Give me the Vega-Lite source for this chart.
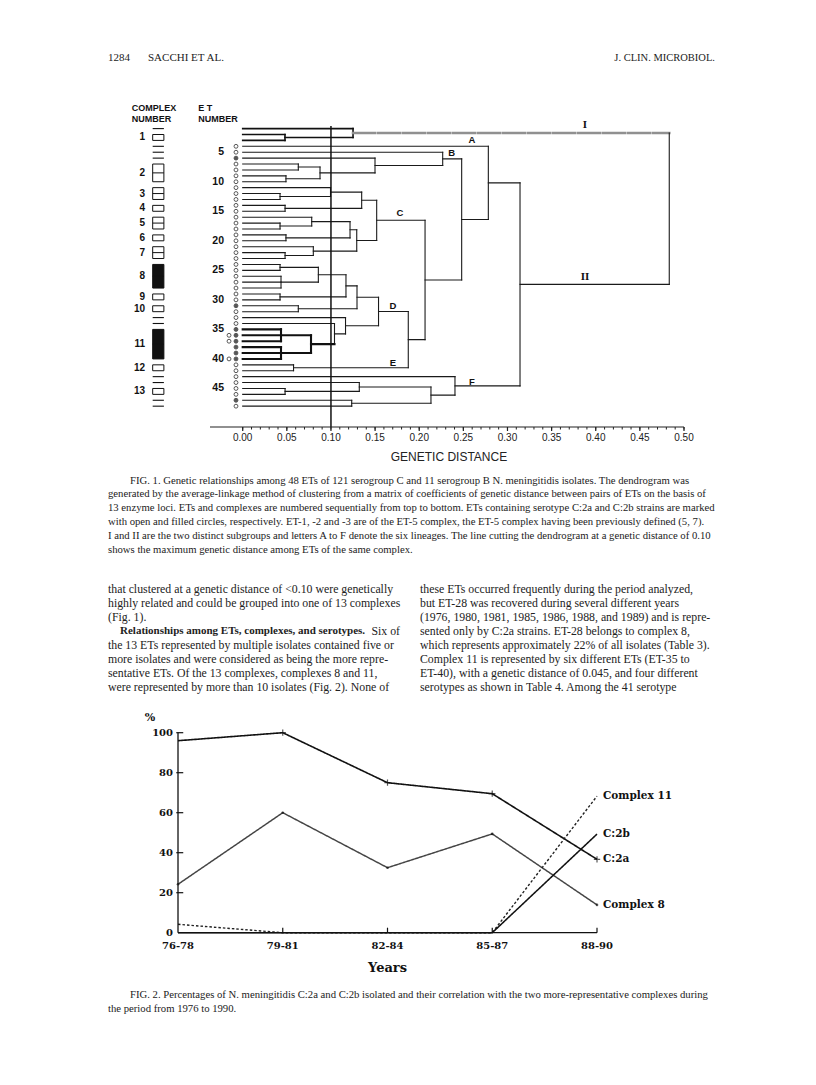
{
"$schema":"https://vega.github.io/schema/vega-lite/v6.json",
"width":816,"height":1085,"padding":0,"autosize":{"type":"none"},"background":"white",
"config":{"view":{"stroke":null},"axis":{"disable":true},"legend":{"disable":true}},
"datasets":{
"seg":[
{"d1":0,"d2":0.125,"e1":1,"e2":1,"g":"c1"},{"d1":0,"d2":0.0479,"e1":2,"e2":2,"g":"c1"},{"d1":0,"d2":0.0479,"e1":3,"e2":3,"g":"c1"},{"d1":0.0479,"d2":0.0479,"e1":2,"e2":3,"g":"c1"},{"d1":0.0479,"d2":0.125,"e1":2.5,"e2":2.5,"g":"c1"},{"d1":0.125,"d2":0.125,"e1":1,"e2":2.5,"g":"c1"},
{"d1":0.125,"d2":0.4833,"e1":1.75,"e2":1.75,"g":"I"},
{"d1":0.4833,"d2":0.4833,"e1":1.75,"e2":27.38,"g":"n"},{"d1":0.3142,"d2":0.4833,"e1":27.38,"e2":27.38,"g":"n"},{"d1":0.3142,"d2":0.3142,"e1":10.19,"e2":44.56,"g":"n"},{"d1":0.2783,"d2":0.3142,"e1":10.19,"e2":10.19,"g":"n"},{"d1":0.2783,"d2":0.2783,"e1":4,"e2":16.38,"g":"n"},{"d1":0,"d2":0.2783,"e1":4,"e2":4,"g":"n"},{"d1":0.2481,"d2":0.2783,"e1":16.38,"e2":16.38,"g":"n"},{"d1":0.2481,"d2":0.2481,"e1":6.125,"e2":26.63,"g":"n"},{"d1":0.2266,"d2":0.2481,"e1":6.125,"e2":6.125,"g":"n"},{"d1":0.2266,"d2":0.2266,"e1":5,"e2":7.25,"g":"n"},{"d1":0,"d2":0.2266,"e1":5,"e2":5,"g":"n"},{"d1":0.1499,"d2":0.2266,"e1":7.25,"e2":7.25,"g":"n"},{"d1":0.1499,"d2":0.1499,"e1":6,"e2":8.5,"g":"n"},{"d1":0,"d2":0.1499,"e1":6,"e2":6,"g":"n"},{"d1":0.0876,"d2":0.1499,"e1":8.5,"e2":8.5,"g":"n"},{"d1":0.0876,"d2":0.0876,"e1":7.5,"e2":9.5,"g":"n"},{"d1":0.063,"d2":0.0876,"e1":7.5,"e2":7.5,"g":"n"},{"d1":0.063,"d2":0.063,"e1":7,"e2":8,"g":"n"},{"d1":0,"d2":0.063,"e1":7,"e2":7,"g":"n"},{"d1":0,"d2":0.063,"e1":8,"e2":8,"g":"n"},{"d1":0.049,"d2":0.0876,"e1":9.5,"e2":9.5,"g":"n"},{"d1":0.049,"d2":0.049,"e1":9,"e2":10,"g":"n"},{"d1":0,"d2":0.049,"e1":9,"e2":9,"g":"n"},{"d1":0,"d2":0.049,"e1":10,"e2":10,"g":"n"},
{"d1":0.2066,"d2":0.2481,"e1":26.63,"e2":26.63,"g":"n"},{"d1":0.2066,"d2":0.2066,"e1":16.53,"e2":36.73,"g":"n"},{"d1":0.1518,"d2":0.2066,"e1":16.53,"e2":16.53,"g":"n"},{"d1":0.1518,"d2":0.1518,"e1":13.125,"e2":19.94,"g":"n"},{"d1":0.1348,"d2":0.1518,"e1":13.125,"e2":13.125,"g":"n"},{"d1":0.1348,"d2":0.1348,"e1":11.75,"e2":14.5,"g":"n"},{"d1":0.0995,"d2":0.1348,"e1":11.75,"e2":11.75,"g":"n"},{"d1":0.0995,"d2":0.0995,"e1":11,"e2":12.5,"g":"n"},{"d1":0,"d2":0.0995,"e1":11,"e2":11,"g":"n"},{"d1":0.0423,"d2":0.0995,"e1":12.5,"e2":12.5,"g":"n"},{"d1":0.0423,"d2":0.0423,"e1":12,"e2":13,"g":"n"},{"d1":0,"d2":0.0423,"e1":12,"e2":12,"g":"n"},{"d1":0,"d2":0.0423,"e1":13,"e2":13,"g":"n"},{"d1":0.048,"d2":0.1348,"e1":14.5,"e2":14.5,"g":"n"},{"d1":0.048,"d2":0.048,"e1":14,"e2":15,"g":"n"},{"d1":0,"d2":0.048,"e1":14,"e2":14,"g":"n"},{"d1":0,"d2":0.048,"e1":15,"e2":15,"g":"n"},
{"d1":0.1292,"d2":0.1518,"e1":19.94,"e2":19.94,"g":"n"},{"d1":0.1292,"d2":0.1292,"e1":18.125,"e2":21.75,"g":"n"},{"d1":0.1216,"d2":0.1292,"e1":18.125,"e2":18.125,"g":"n"},{"d1":0.1216,"d2":0.1216,"e1":16.75,"e2":19.5,"g":"n"},{"d1":0.0782,"d2":0.1216,"e1":16.75,"e2":16.75,"g":"n"},{"d1":0.0782,"d2":0.0782,"e1":16,"e2":17.5,"g":"n"},{"d1":0,"d2":0.0782,"e1":16,"e2":16,"g":"n"},{"d1":0.0423,"d2":0.0782,"e1":17.5,"e2":17.5,"g":"n"},{"d1":0.0423,"d2":0.0423,"e1":17,"e2":18,"g":"n"},{"d1":0,"d2":0.0423,"e1":17,"e2":17,"g":"n"},{"d1":0,"d2":0.0423,"e1":18,"e2":18,"g":"n"},{"d1":0.049,"d2":0.1216,"e1":19.5,"e2":19.5,"g":"n"},{"d1":0.049,"d2":0.049,"e1":19,"e2":20,"g":"n"},{"d1":0,"d2":0.049,"e1":19,"e2":19,"g":"n"},{"d1":0,"d2":0.049,"e1":20,"e2":20,"g":"n"},{"d1":0.08,"d2":0.1292,"e1":21.75,"e2":21.75,"g":"n"},{"d1":0.08,"d2":0.08,"e1":21,"e2":22.5,"g":"n"},{"d1":0,"d2":0.08,"e1":21,"e2":21,"g":"n"},{"d1":0.048,"d2":0.08,"e1":22.5,"e2":22.5,"g":"n"},{"d1":0.048,"d2":0.048,"e1":22,"e2":23,"g":"n"},{"d1":0,"d2":0.048,"e1":22,"e2":22,"g":"n"},{"d1":0,"d2":0.048,"e1":23,"e2":23,"g":"n"},
{"d1":0.1876,"d2":0.2066,"e1":36.73,"e2":36.73,"g":"n"},{"d1":0.1876,"d2":0.1876,"e1":31.97,"e2":41.5,"g":"n"},{"d1":0.1539,"d2":0.1876,"e1":31.97,"e2":31.97,"g":"n"},{"d1":0.1539,"d2":0.1539,"e1":29.56,"e2":34.38,"g":"n"},{"d1":0.1295,"d2":0.1539,"e1":29.56,"e2":29.56,"g":"n"},{"d1":0.1295,"d2":0.1295,"e1":27.63,"e2":31.5,"g":"n"},{"d1":0.117,"d2":0.1295,"e1":27.63,"e2":27.63,"g":"n"},{"d1":0.117,"d2":0.117,"e1":25.75,"e2":29.5,"g":"n"},{"d1":0.0857,"d2":0.117,"e1":25.75,"e2":25.75,"g":"n"},{"d1":0.0857,"d2":0.0857,"e1":24.5,"e2":27,"g":"n"},{"d1":0.0423,"d2":0.0857,"e1":24.5,"e2":24.5,"g":"n"},{"d1":0.0423,"d2":0.0423,"e1":24,"e2":25,"g":"n"},{"d1":0,"d2":0.0423,"e1":24,"e2":24,"g":"n"},{"d1":0,"d2":0.0423,"e1":25,"e2":25,"g":"n"},{"d1":0.0434,"d2":0.0857,"e1":27,"e2":27,"g":"n"},{"d1":0.0434,"d2":0.0434,"e1":26,"e2":28,"g":"n"},{"d1":0,"d2":0.0434,"e1":26,"e2":26,"g":"n"},{"d1":0,"d2":0.0434,"e1":27,"e2":27,"g":"n"},{"d1":0,"d2":0.0434,"e1":28,"e2":28,"g":"n"},{"d1":0.0423,"d2":0.117,"e1":29.5,"e2":29.5,"g":"n"},{"d1":0.0423,"d2":0.0423,"e1":29,"e2":30,"g":"n"},{"d1":0,"d2":0.0423,"e1":29,"e2":29,"g":"n"},{"d1":0,"d2":0.0423,"e1":30,"e2":30,"g":"n"},{"d1":0.063,"d2":0.1295,"e1":31.5,"e2":31.5,"g":"n"},{"d1":0.063,"d2":0.063,"e1":31,"e2":32,"g":"n"},{"d1":0,"d2":0.063,"e1":31,"e2":31,"g":"n"},{"d1":0,"d2":0.063,"e1":32,"e2":32,"g":"n"},
{"d1":0.1165,"d2":0.1539,"e1":34.38,"e2":34.38,"g":"n"},{"d1":0.1165,"d2":0.1165,"e1":33,"e2":35.75,"g":"n"},{"d1":0,"d2":0.1165,"e1":33,"e2":33,"g":"n"},{"d1":0.104,"d2":0.1165,"e1":35.75,"e2":35.75,"g":"n"},{"d1":0.104,"d2":0.104,"e1":34,"e2":37.5,"g":"n"},{"d1":0,"d2":0.104,"e1":34,"e2":34,"g":"n"},
{"d1":0.0774,"d2":0.104,"e1":37.5,"e2":37.5,"g":"c11"},{"d1":0.0774,"d2":0.0774,"e1":36,"e2":39,"g":"c11"},{"d1":0.0434,"d2":0.0774,"e1":36,"e2":36,"g":"c11"},{"d1":0.0434,"d2":0.0434,"e1":35,"e2":37,"g":"c11"},{"d1":0,"d2":0.0434,"e1":35,"e2":35,"g":"c11"},{"d1":0,"d2":0.0434,"e1":36,"e2":36,"g":"c11"},{"d1":0,"d2":0.0434,"e1":37,"e2":37,"g":"c11"},{"d1":0.0434,"d2":0.0774,"e1":39,"e2":39,"g":"c11"},{"d1":0.0434,"d2":0.0434,"e1":38,"e2":40,"g":"c11"},{"d1":0,"d2":0.0434,"e1":38,"e2":38,"g":"c11"},{"d1":0,"d2":0.0434,"e1":39,"e2":39,"g":"c11"},{"d1":0,"d2":0.0434,"e1":40,"e2":40,"g":"c11"},
{"d1":0.0576,"d2":0.1876,"e1":41.5,"e2":41.5,"g":"n"},{"d1":0.0576,"d2":0.0576,"e1":41,"e2":42,"g":"n"},{"d1":0,"d2":0.0576,"e1":41,"e2":41,"g":"n"},{"d1":0,"d2":0.0576,"e1":42,"e2":42,"g":"n"},
{"d1":0.2405,"d2":0.3142,"e1":44.56,"e2":44.56,"g":"n"},{"d1":0.2405,"d2":0.2405,"e1":43,"e2":46.13,"g":"n"},{"d1":0,"d2":0.2405,"e1":43,"e2":43,"g":"n"},{"d1":0.2133,"d2":0.2405,"e1":46.13,"e2":46.13,"g":"n"},{"d1":0.2133,"d2":0.2133,"e1":44.75,"e2":47.5,"g":"n"},{"d1":0.1321,"d2":0.2133,"e1":44.75,"e2":44.75,"g":"n"},{"d1":0.1321,"d2":0.1321,"e1":44,"e2":45.5,"g":"n"},{"d1":0,"d2":0.1321,"e1":44,"e2":44,"g":"n"},{"d1":0.048,"d2":0.1321,"e1":45.5,"e2":45.5,"g":"n"},{"d1":0.048,"d2":0.048,"e1":45,"e2":46,"g":"n"},{"d1":0,"d2":0.048,"e1":45,"e2":45,"g":"n"},{"d1":0,"d2":0.048,"e1":46,"e2":46,"g":"n"},{"d1":0.1235,"d2":0.2133,"e1":47.5,"e2":47.5,"g":"n"},{"d1":0.1235,"d2":0.1235,"e1":47,"e2":48,"g":"n"},{"d1":0,"d2":0.1235,"e1":47,"e2":47,"g":"n"},{"d1":0,"d2":0.1235,"e1":48,"e2":48,"g":"n"}
],
"circ":[{"et":4,"s":"C:2a"},{"et":5,"s":"C:2a"},{"et":6,"s":"C:2b"},{"et":7,"s":"C:2a"},{"et":8,"s":"C:2a"},{"et":9,"s":"C:2a"},{"et":10,"s":"C:2a"},{"et":11,"s":"C:2a"},{"et":12,"s":"C:2a"},{"et":13,"s":"C:2a"},{"et":14,"s":"C:2a"},{"et":15,"s":"C:2a"},{"et":16,"s":"C:2a"},{"et":17,"s":"C:2a"},{"et":18,"s":"C:2a"},{"et":19,"s":"C:2a"},{"et":20,"s":"C:2a"},{"et":21,"s":"C:2a"},{"et":22,"s":"C:2a"},{"et":23,"s":"C:2a"},{"et":24,"s":"C:2a"},{"et":25,"s":"C:2a"},{"et":26,"s":"C:2a"},{"et":27,"s":"C:2a"},{"et":28,"s":"C:2a"},{"et":29,"s":"C:2a"},{"et":30,"s":"C:2a"},{"et":31,"s":"C:2b"},{"et":32,"s":"C:2a"},{"et":33,"s":"C:2a"},{"et":34,"s":"C:2a"},{"et":35,"s":"C:2b"},{"et":36,"s":"C:2b"},{"et":37,"s":"C:2b"},{"et":38,"s":"C:2b"},{"et":39,"s":"C:2b"},{"et":40,"s":"C:2b"},{"et":41,"s":"C:2a"},{"et":42,"s":"C:2a"},{"et":43,"s":"C:2a"},{"et":44,"s":"C:2a"},{"et":45,"s":"C:2a"},{"et":46,"s":"C:2a"},{"et":47,"s":"C:2b"},{"et":48,"s":"C:2a"}],
"circx":[{"et":36,"s":"C:2a"},{"et":37,"s":"C:2a"},{"et":40,"s":"C:2a"}],
"etlab":[{"et":5},{"et":10},{"et":15},{"et":20},{"et":25},{"et":30},{"et":35},{"et":40},{"et":45}],
"cplx":[{"c":1,"e1":2,"e2":3,"mid":2.5,"iso":"≤10"},{"c":2,"e1":7,"e2":10,"mid":8.5,"iso":"≤10"},{"c":3,"e1":11,"e2":13,"mid":12,"iso":"≤10"},{"c":4,"e1":14,"e2":15,"mid":14.5,"iso":"≤10"},{"c":5,"e1":16,"e2":18,"mid":17,"iso":"≤10"},{"c":6,"e1":19,"e2":20,"mid":19.5,"iso":"≤10"},{"c":7,"e1":21,"e2":23,"mid":22,"iso":"≤10"},{"c":8,"e1":24,"e2":28,"mid":26,"iso":">10"},{"c":9,"e1":29,"e2":30,"mid":29.5,"iso":"≤10"},{"c":10,"e1":31,"e2":32,"mid":31.5,"iso":"≤10"},{"c":11,"e1":35,"e2":40,"mid":37.5,"iso":">10"},{"c":12,"e1":41,"e2":42,"mid":41.5,"iso":"≤10"},{"c":13,"e1":45,"e2":46,"mid":45.5,"iso":"≤10"}],
"dash":[{"et":1},{"et":4},{"et":5},{"et":6},{"et":33},{"et":34},{"et":43},{"et":44},{"et":47},{"et":48}],
"groupLab":[{"t":"I","d":0.3878,"et":0.39},{"t":"II","d":0.3878,"et":26.13}],
"lineageLab":[{"t":"A","d":0.2598,"et":2.93},{"t":"B","d":0.2368,"et":5.08},{"t":"C","d":0.1782,"et":15.29},{"t":"D","d":0.1703,"et":31.04},{"t":"E","d":0.1703,"et":40.69},{"t":"F","d":0.2598,"et":43.9}],
"heads":[{"t":"COMPLEX","d":-0.1258,"et":-2.44},{"t":"NUMBER","d":-0.1258,"et":-0.57},{"t":"E T","d":-0.0504,"et":-2.44},{"t":"NUMBER","d":-0.0504,"et":-0.57}],
"ticks":[{"v":0},{"v":0.01},{"v":0.02},{"v":0.03},{"v":0.04},{"v":0.05},{"v":0.06},{"v":0.07},{"v":0.08},{"v":0.09},{"v":0.1},{"v":0.11},{"v":0.12},{"v":0.13},{"v":0.14},{"v":0.15},{"v":0.16},{"v":0.17},{"v":0.18},{"v":0.19},{"v":0.2},{"v":0.21},{"v":0.22},{"v":0.23},{"v":0.24},{"v":0.25},{"v":0.26},{"v":0.27},{"v":0.28},{"v":0.29},{"v":0.3},{"v":0.31},{"v":0.32},{"v":0.33},{"v":0.34},{"v":0.35},{"v":0.36},{"v":0.37},{"v":0.38},{"v":0.39},{"v":0.4},{"v":0.41},{"v":0.42},{"v":0.43},{"v":0.44},{"v":0.45},{"v":0.46},{"v":0.47},{"v":0.48},{"v":0.49},{"v":0.5}],
"major":[{"v":0},{"v":0.05},{"v":0.1},{"v":0.15},{"v":0.2},{"v":0.25},{"v":0.3},{"v":0.35},{"v":0.4},{"v":0.45},{"v":0.5}],
"cap1":[
{"ln":0,"first":true,"t":"FIG. 1. Genetic relationships among 48 ETs of 121 serogroup C and 11 serogroup B N. meningitidis isolates. The dendrogram was"},
{"ln":1,"first":false,"t":"generated by the average-linkage method of clustering from a matrix of coefficients of genetic distance between pairs of ETs on the basis of"},
{"ln":2,"first":false,"t":"13 enzyme loci. ETs and complexes are numbered sequentially from top to bottom. ETs containing serotype C:2a and C:2b strains are marked"},
{"ln":3,"first":false,"t":"with open and filled circles, respectively. ET-1, -2 and -3 are of the ET-5 complex, the ET-5 complex having been previously defined (5, 7)."},
{"ln":4,"first":false,"t":"I and II are the two distinct subgroups and letters A to F denote the six lineages. The line cutting the dendrogram at a genetic distance of 0.10"},
{"ln":5,"first":false,"t":"shows the maximum genetic distance among ETs of the same complex."}],
"body":[
{"col":0,"ln":0,"t":"that clustered at a genetic distance of <0.10 were genetically"},
{"col":0,"ln":1,"t":"highly related and could be grouped into one of 13 complexes"},
{"col":0,"ln":2,"t":"(Fig. 1)."},
{"col":0,"ln":4,"t":"the 13 ETs represented by multiple isolates contained five or"},
{"col":0,"ln":5,"t":"more isolates and were considered as being the more repre-"},
{"col":0,"ln":6,"t":"sentative ETs. Of the 13 complexes, complexes 8 and 11,"},
{"col":0,"ln":7,"t":"were represented by more than 10 isolates (Fig. 2). None of"},
{"col":1,"ln":0,"t":"these ETs occurred frequently during the period analyzed,"},
{"col":1,"ln":1,"t":"but ET-28 was recovered during several different years"},
{"col":1,"ln":2,"t":"(1976, 1980, 1981, 1985, 1986, 1988, and 1989) and is repre-"},
{"col":1,"ln":3,"t":"sented only by C:2a strains. ET-28 belongs to complex 8,"},
{"col":1,"ln":4,"t":"which represents approximately 22% of all isolates (Table 3)."},
{"col":1,"ln":5,"t":"Complex 11 is represented by six different ETs (ET-35 to"},
{"col":1,"ln":6,"t":"ET-40), with a genetic distance of 0.045, and four different"},
{"col":1,"ln":7,"t":"serotypes as shown in Table 4. Among the 41 serotype"}],
"bodyBold":[{"col":0,"ln":3,"t":"Relationships among ETs, complexes, and serotypes."}],
"bodyEnd":[{"col":0,"ln":3,"t":"Six of"}],
"cap2":[
{"ln":0,"first":true,"t":"FIG. 2. Percentages of N. meningitidis C:2a and C:2b isolated and their correlation with the two more-representative complexes during"},
{"ln":1,"first":false,"t":"the period from 1976 to 1990."}],
"series":[
{"s":"C:2a","start":1976,"v":96},{"s":"C:2a","start":1979,"v":100},{"s":"C:2a","start":1982,"v":75},{"s":"C:2a","start":1985,"v":69.5},{"s":"C:2a","start":1988,"v":36.7},
{"s":"Complex 8","start":1976,"v":24.2},{"s":"Complex 8","start":1979,"v":60},{"s":"Complex 8","start":1982,"v":32.5},{"s":"Complex 8","start":1985,"v":49.4},{"s":"Complex 8","start":1988,"v":13.9},
{"s":"Complex 11","start":1976,"v":4.2},{"s":"Complex 11","start":1979,"v":0},{"s":"Complex 11","start":1982,"v":0},{"s":"Complex 11","start":1985,"v":0},{"s":"Complex 11","start":1988,"v":68.3},
{"s":"C:2b","start":1976,"v":0},{"s":"C:2b","start":1979,"v":0},{"s":"C:2b","start":1982,"v":0},{"s":"C:2b","start":1985,"v":0},{"s":"C:2b","start":1988,"v":49.3}],
"periods":[{"p":"76-78","start":1976},{"p":"79-81","start":1979},{"p":"82-84","start":1982},{"p":"85-87","start":1985},{"p":"88-90","start":1988}],
"yt":[{"v":0},{"v":20},{"v":40},{"v":60},{"v":80},{"v":100}]
},
"layer":[
{"layer":[
 {"data":{"name":"seg"},"mark":{"type":"rule","strokeCap":"square"},
  "encoding":{"x":{"field":"d1","type":"quantitative","scale":{"domain":[-0.27499,0.64956],"nice":false,"zero":false},"axis":null},"x2":{"field":"d2"},
   "y":{"field":"e1","type":"quantitative","scale":{"domain":[-20.774,162.94],"reverse":true,"nice":false,"zero":false},"axis":null},"y2":{"field":"e2"},
   "strokeWidth":{"field":"g","type":"nominal","scale":{"domain":["n","c1","c11","I"],"range":[1.1,2.6,2.6,0.9]},"legend":null},
   "strokeDash":{"field":"g","type":"nominal","scale":{"domain":["n","c1","c11","I"],"range":[[1,0],[1,0],[1,0],[22,3]]},"legend":null},
   "color":{"field":"g","type":"nominal","scale":{"domain":["n","c1","c11","I"],"range":["#1a1a1a","#111111","#111111","#909090"]},"legend":null}}},
 {"data":{"values":[{"cut":0.1}]},"mark":{"type":"rule","strokeWidth":1.5,"color":"#111"},
  "encoding":{"x":{"field":"cut","type":"quantitative","scale":{"domain":[-0.27499,0.64956],"nice":false,"zero":false},"axis":null},"y":{"datum":0.56,"type":"quantitative","scale":{"domain":[-20.774,162.94],"reverse":true,"nice":false,"zero":false},"axis":null},"y2":{"datum":51.53}}},
 {"data":{"name":"circ"},"mark":{"type":"point","shape":"circle","filled":true,"size":15,"strokeWidth":1,"stroke":"#111"},
  "encoding":{"x":{"datum":-0.0076,"type":"quantitative","scale":{"domain":[-0.27499,0.64956],"nice":false,"zero":false},"axis":null},"y":{"field":"et","type":"quantitative","scale":{"domain":[-20.774,162.94],"reverse":true,"nice":false,"zero":false},"axis":null},
   "fill":{"field":"s","type":"nominal","scale":{"domain":["C:2a","C:2b"],"range":["white","#111"]},"legend":null}}},
 {"data":{"name":"circx"},"mark":{"type":"point","shape":"circle","filled":true,"size":15,"strokeWidth":1,"stroke":"#111"},
  "encoding":{"x":{"datum":-0.0155,"type":"quantitative","scale":{"domain":[-0.27499,0.64956],"nice":false,"zero":false},"axis":null},"y":{"field":"et","type":"quantitative","scale":{"domain":[-20.774,162.94],"reverse":true,"nice":false,"zero":false},"axis":null},
   "fill":{"field":"s","type":"nominal","scale":{"domain":["C:2a","C:2b"],"range":["white","#111"]},"legend":null}}},
 {"data":{"name":"etlab"},"mark":{"type":"text","align":"right","baseline":"middle","font":"Liberation Sans","fontWeight":"bold","fontSize":10.5,"color":"#111"},
  "encoding":{"x":{"datum":-0.0212,"type":"quantitative","scale":{"domain":[-0.27499,0.64956],"nice":false,"zero":false},"axis":null},"y":{"field":"et","type":"quantitative","scale":{"domain":[-20.774,162.94],"reverse":true,"nice":false,"zero":false},"axis":null},"text":{"field":"et","type":"nominal"}}},
 {"data":{"name":"cplx"},"mark":{"type":"rect","stroke":"#111","strokeWidth":1},
  "encoding":{"x":{"datum":-0.102,"type":"quantitative","scale":{"domain":[-0.27499,0.64956],"nice":false,"zero":false},"axis":null},"x2":{"datum":-0.0893},"y":{"field":"e1","type":"quantitative","scale":{"domain":[-20.774,162.94],"reverse":true,"nice":false,"zero":false},"axis":null},"y2":{"field":"e2"},
   "fill":{"field":"iso","type":"nominal","scale":{"domain":[">10","≤10"],"range":["#111","white"]},"legend":null}}},
 {"data":{"name":"cplx"},"transform":[{"filter":"datum.e2 - datum.e1 >= 2"}],"mark":{"type":"rule","strokeWidth":1,"color":"#111"},
  "encoding":{"x":{"datum":-0.102,"type":"quantitative","scale":{"domain":[-0.27499,0.64956],"nice":false,"zero":false},"axis":null},"x2":{"datum":-0.0893},"y":{"field":"mid","type":"quantitative","scale":{"domain":[-20.774,162.94],"reverse":true,"nice":false,"zero":false},"axis":null}}},
 {"data":{"name":"cplx"},"mark":{"type":"text","align":"right","baseline":"middle","font":"Liberation Sans","fontWeight":"bold","fontSize":10,"color":"#111"},
  "encoding":{"x":{"datum":-0.1107,"type":"quantitative","scale":{"domain":[-0.27499,0.64956],"nice":false,"zero":false},"axis":null},"y":{"field":"mid","type":"quantitative","scale":{"domain":[-20.774,162.94],"reverse":true,"nice":false,"zero":false},"axis":null},"text":{"field":"c","type":"nominal"}}},
 {"data":{"name":"dash"},"mark":{"type":"rule","strokeWidth":1.1,"color":"#111"},
  "encoding":{"x":{"datum":-0.102,"type":"quantitative","scale":{"domain":[-0.27499,0.64956],"nice":false,"zero":false},"axis":null},"x2":{"datum":-0.0893},"y":{"field":"et","type":"quantitative","scale":{"domain":[-20.774,162.94],"reverse":true,"nice":false,"zero":false},"axis":null}}},
 {"data":{"name":"heads"},"mark":{"type":"text","align":"left","baseline":"middle","font":"Liberation Sans","fontWeight":"bold","fontSize":9,"color":"#111"},
  "encoding":{"x":{"field":"d","type":"quantitative","scale":{"domain":[-0.27499,0.64956],"nice":false,"zero":false},"axis":null},"y":{"field":"et","type":"quantitative","scale":{"domain":[-20.774,162.94],"reverse":true,"nice":false,"zero":false},"axis":null},"text":{"field":"t"}}},
 {"data":{"name":"groupLab"},"mark":{"type":"text","align":"center","baseline":"middle","font":"Liberation Serif","fontWeight":"bold","fontSize":11,"color":"#111"},
  "encoding":{"x":{"field":"d","type":"quantitative","scale":{"domain":[-0.27499,0.64956],"nice":false,"zero":false},"axis":null},"y":{"field":"et","type":"quantitative","scale":{"domain":[-20.774,162.94],"reverse":true,"nice":false,"zero":false},"axis":null},"text":{"field":"t"}}},
 {"data":{"name":"lineageLab"},"mark":{"type":"text","align":"center","baseline":"middle","font":"Liberation Sans","fontWeight":"bold","fontSize":9.5,"color":"#111"},
  "encoding":{"x":{"field":"d","type":"quantitative","scale":{"domain":[-0.27499,0.64956],"nice":false,"zero":false},"axis":null},"y":{"field":"et","type":"quantitative","scale":{"domain":[-20.774,162.94],"reverse":true,"nice":false,"zero":false},"axis":null},"text":{"field":"t"}}},
 {"data":{"values":[{"a":-0.0371,"b":0.5}]},"mark":{"type":"rule","strokeWidth":1.2,"color":"#222"},
  "encoding":{"x":{"field":"a","type":"quantitative","scale":{"domain":[-0.27499,0.64956],"nice":false,"zero":false},"axis":null},"x2":{"field":"b"},"y":{"datum":51.53,"type":"quantitative","scale":{"domain":[-20.774,162.94],"reverse":true,"nice":false,"zero":false},"axis":null}}},
 {"data":{"name":"ticks"},"mark":{"type":"rule","strokeWidth":1,"color":"#222"},
  "encoding":{"x":{"field":"v","type":"quantitative","scale":{"domain":[-0.27499,0.64956],"nice":false,"zero":false},"axis":null},"y":{"datum":51.53,"type":"quantitative","scale":{"domain":[-20.774,162.94],"reverse":true,"nice":false,"zero":false},"axis":null},"y2":{"datum":51.95}}},
 {"data":{"name":"major"},"mark":{"type":"rule","strokeWidth":1.2,"color":"#222"},
  "encoding":{"x":{"field":"v","type":"quantitative","scale":{"domain":[-0.27499,0.64956],"nice":false,"zero":false},"axis":null},"y":{"datum":51.53,"type":"quantitative","scale":{"domain":[-20.774,162.94],"reverse":true,"nice":false,"zero":false},"axis":null},"y2":{"datum":52.2}}},
 {"data":{"name":"major"},"mark":{"type":"text","align":"center","baseline":"middle","font":"Liberation Sans","fontSize":10,"color":"#222"},
  "encoding":{"x":{"field":"v","type":"quantitative","scale":{"domain":[-0.27499,0.64956],"nice":false,"zero":false},"axis":null},"y":{"datum":53.39,"type":"quantitative","scale":{"domain":[-20.774,162.94],"reverse":true,"nice":false,"zero":false},"axis":null},"text":{"field":"v","type":"quantitative","format":".2f"}}},
 {"data":{"values":[{"t":"GENETIC DISTANCE"}]},"mark":{"type":"text","align":"center","baseline":"middle","font":"Liberation Sans","fontSize":12,"color":"#222"},
  "encoding":{"x":{"datum":0.2337,"type":"quantitative","scale":{"domain":[-0.27499,0.64956],"nice":false,"zero":false},"axis":null},"y":{"datum":56.61,"type":"quantitative","scale":{"domain":[-20.774,162.94],"reverse":true,"nice":false,"zero":false},"axis":null},"text":{"field":"t"}}}
],"resolve":{"scale":{"fill":"independent"}}},
{"layer":[
 {"data":{"values":[{"t":"1284"}]},"mark":{"type":"text","align":"left","baseline":"middle","font":"Liberation Serif","fontSize":11,"color":"#222"},
  "encoding":{"x":{"datum":0,"type":"quantitative","scale":{"domain":[-0.34615,2.26923],"nice":false,"zero":false},"axis":null},"y":{"datum":0,"type":"quantitative","scale":{"domain":[-4.1429,73.357],"reverse":true,"nice":false,"zero":false},"axis":null},"text":{"field":"t"}}},
 {"data":{"values":[{"t":"SACCHI ET AL."}]},"mark":{"type":"text","align":"left","baseline":"middle","font":"Liberation Serif","fontSize":11,"color":"#222"},
  "encoding":{"x":{"datum":0.1282,"type":"quantitative","scale":{"domain":[-0.34615,2.26923],"nice":false,"zero":false},"axis":null},"y":{"datum":0,"type":"quantitative","scale":{"domain":[-4.1429,73.357],"reverse":true,"nice":false,"zero":false},"axis":null},"text":{"field":"t"}}},
 {"data":{"values":[{"t":"J. CLIN. MICROBIOL."}]},"mark":{"type":"text","align":"right","baseline":"middle","font":"Liberation Serif","fontSize":10.5,"color":"#222"},
  "encoding":{"x":{"datum":1.9455,"type":"quantitative","scale":{"domain":[-0.34615,2.26923],"nice":false,"zero":false},"axis":null},"y":{"datum":0,"type":"quantitative","scale":{"domain":[-4.1429,73.357],"reverse":true,"nice":false,"zero":false},"axis":null},"text":{"field":"t"}}},
 {"data":{"name":"cap1"},"transform":[{"filter":"!datum.first"}],"mark":{"type":"text","align":"left","baseline":"middle","font":"Liberation Serif","fontSize":10.7,"color":"#222"},
  "encoding":{"x":{"datum":0,"type":"quantitative","scale":{"domain":[-0.34615,2.26923],"nice":false,"zero":false},"axis":null},"y":{"field":"ln","type":"quantitative","scale":{"domain":[-34.819,43.804],"reverse":true,"nice":false,"zero":false},"axis":null},"text":{"field":"t"}}},
 {"data":{"name":"cap1"},"transform":[{"filter":"datum.first"}],"mark":{"type":"text","align":"left","baseline":"middle","dx":22,"font":"Liberation Serif","fontSize":10.7,"color":"#222"},
  "encoding":{"x":{"datum":0,"type":"quantitative","scale":{"domain":[-0.34615,2.26923],"nice":false,"zero":false},"axis":null},"y":{"field":"ln","type":"quantitative","scale":{"domain":[-34.819,43.804],"reverse":true,"nice":false,"zero":false},"axis":null},"text":{"field":"t"}}},
 {"data":{"name":"body"},"mark":{"type":"text","align":"left","baseline":"middle","font":"Liberation Serif","fontSize":11.8,"color":"#222"},
  "encoding":{"x":{"field":"col","type":"quantitative","scale":{"domain":[-0.34615,2.26923],"nice":false,"zero":false},"axis":null},"y":{"field":"ln","type":"quantitative","scale":{"domain":[-42.071,35.429],"reverse":true,"nice":false,"zero":false},"axis":null},"text":{"field":"t"}}},
 {"data":{"name":"bodyBold"},"mark":{"type":"text","align":"left","baseline":"middle","dx":12,"font":"Liberation Serif","fontWeight":"bold","fontSize":11,"color":"#222"},
  "encoding":{"x":{"field":"col","type":"quantitative","scale":{"domain":[-0.34615,2.26923],"nice":false,"zero":false},"axis":null},"y":{"field":"ln","type":"quantitative","scale":{"domain":[-42.071,35.429],"reverse":true,"nice":false,"zero":false},"axis":null},"text":{"field":"t"}}},
 {"data":{"name":"bodyEnd"},"mark":{"type":"text","align":"right","baseline":"middle","dx":292,"font":"Liberation Serif","fontSize":11.8,"color":"#222"},
  "encoding":{"x":{"field":"col","type":"quantitative","scale":{"domain":[-0.34615,2.26923],"nice":false,"zero":false},"axis":null},"y":{"field":"ln","type":"quantitative","scale":{"domain":[-42.071,35.429],"reverse":true,"nice":false,"zero":false},"axis":null},"text":{"field":"t"}}},
 {"data":{"name":"cap2"},"transform":[{"filter":"!datum.first"}],"mark":{"type":"text","align":"left","baseline":"middle","font":"Liberation Serif","fontSize":10.7,"color":"#222"},
  "encoding":{"x":{"datum":0,"type":"quantitative","scale":{"domain":[-0.34615,2.26923],"nice":false,"zero":false},"axis":null},"y":{"field":"ln","type":"quantitative","scale":{"domain":[-71.071,6.429],"reverse":true,"nice":false,"zero":false},"axis":null},"text":{"field":"t"}}},
 {"data":{"name":"cap2"},"transform":[{"filter":"datum.first"}],"mark":{"type":"text","align":"left","baseline":"middle","dx":22,"font":"Liberation Serif","fontSize":10.7,"color":"#222"},
  "encoding":{"x":{"datum":0,"type":"quantitative","scale":{"domain":[-0.34615,2.26923],"nice":false,"zero":false},"axis":null},"y":{"field":"ln","type":"quantitative","scale":{"domain":[-71.071,6.429],"reverse":true,"nice":false,"zero":false},"axis":null},"text":{"field":"t"}}}
],"resolve":{"scale":{"y":"independent"}}},
{"layer":[
 {"data":{"name":"series"},"mark":{"type":"line"},
  "encoding":{"x":{"field":"start","type":"quantitative","scale":{"domain":[1970.902,1994.272],"nice":false,"zero":false},"axis":null},"y":{"field":"v","type":"quantitative","scale":{"domain":[-76.15,466.35],"nice":false,"zero":false},"axis":null},
   "detail":{"field":"s"},
   "strokeWidth":{"field":"s","type":"nominal","scale":{"domain":["C:2a","C:2b","Complex 8","Complex 11"],"range":[1.6,1.4,0.8,1]},"legend":null},
   "strokeDash":{"field":"s","type":"nominal","scale":{"domain":["C:2a","C:2b","Complex 8","Complex 11"],"range":[[1,0],[1,0],[1,0],[2.5,2]]},"legend":null},
   "color":{"field":"s","type":"nominal","scale":{"domain":["C:2a","C:2b","Complex 8","Complex 11"],"range":["#111","#111","#444","#222"]},"legend":null}}},
 {"data":{"name":"series"},"transform":[{"filter":"datum.s == 'C:2a' && datum.start > 1976"}],"mark":{"type":"point","shape":"M-1,0L1,0M0,-1L0,1","filled":false,"size":40,"strokeWidth":1.2,"color":"#111"},
  "encoding":{"x":{"field":"start","type":"quantitative","scale":{"domain":[1970.902,1994.272],"nice":false,"zero":false},"axis":null},"y":{"field":"v","type":"quantitative","scale":{"domain":[-76.15,466.35],"nice":false,"zero":false},"axis":null}}},
 {"data":{"name":"series"},"transform":[{"filter":"datum.s == 'Complex 8'"}],"mark":{"type":"point","shape":"circle","filled":true,"size":7,"color":"#111"},
  "encoding":{"x":{"field":"start","type":"quantitative","scale":{"domain":[1970.902,1994.272],"nice":false,"zero":false},"axis":null},"y":{"field":"v","type":"quantitative","scale":{"domain":[-76.15,466.35],"nice":false,"zero":false},"axis":null}}},
 {"data":{"name":"series"},"transform":[{"filter":"datum.start == 1988"}],"mark":{"type":"text","align":"left","baseline":"middle","dx":6,"font":"DejaVu Serif","fontWeight":"bold","fontSize":10.5,"color":"#111"},
  "encoding":{"x":{"field":"start","type":"quantitative","scale":{"domain":[1970.902,1994.272],"nice":false,"zero":false},"axis":null},"y":{"field":"v","type":"quantitative","scale":{"domain":[-76.15,466.35],"nice":false,"zero":false},"axis":null},"text":{"field":"s"}}},
 {"data":{"values":[{"a":0,"b":100}]},"mark":{"type":"rule","strokeWidth":1.3,"color":"#111"},
  "encoding":{"x":{"datum":1976,"type":"quantitative","scale":{"domain":[1970.902,1994.272],"nice":false,"zero":false},"axis":null},"y":{"field":"a","type":"quantitative","scale":{"domain":[-76.15,466.35],"nice":false,"zero":false},"axis":null},"y2":{"field":"b"}}},
 {"data":{"values":[{"a":1976,"b":1988}]},"mark":{"type":"rule","strokeWidth":1.3,"color":"#111"},
  "encoding":{"x":{"field":"a","type":"quantitative","scale":{"domain":[1970.902,1994.272],"nice":false,"zero":false},"axis":null},"x2":{"field":"b"},"y":{"datum":0,"type":"quantitative","scale":{"domain":[-76.15,466.35],"nice":false,"zero":false},"axis":null}}},
 {"data":{"name":"yt"},"transform":[{"filter":"datum.v > 0"}],"mark":{"type":"rule","strokeWidth":1.2,"color":"#111"},
  "encoding":{"x":{"datum":1975.95,"type":"quantitative","scale":{"domain":[1970.902,1994.272],"nice":false,"zero":false},"axis":null},"x2":{"datum":1976.15},"y":{"field":"v","type":"quantitative","scale":{"domain":[-76.15,466.35],"nice":false,"zero":false},"axis":null}}},
 {"data":{"name":"yt"},"mark":{"type":"text","align":"right","baseline":"middle","font":"DejaVu Serif","fontWeight":"bold","fontSize":10,"color":"#111"},
  "encoding":{"x":{"datum":1975.857,"type":"quantitative","scale":{"domain":[1970.902,1994.272],"nice":false,"zero":false},"axis":null},"y":{"field":"v","type":"quantitative","scale":{"domain":[-76.15,466.35],"nice":false,"zero":false},"axis":null},"text":{"field":"v","type":"nominal"}}},
 {"data":{"name":"periods"},"transform":[{"filter":"datum.start > 1976"}],"mark":{"type":"rule","strokeWidth":1.2,"color":"#111"},
  "encoding":{"x":{"field":"start","type":"quantitative","scale":{"domain":[1970.902,1994.272],"nice":false,"zero":false},"axis":null},"y":{"datum":0,"type":"quantitative","scale":{"domain":[-76.15,466.35],"nice":false,"zero":false},"axis":null},"y2":{"datum":2.5}}},
 {"data":{"name":"periods"},"mark":{"type":"text","align":"center","baseline":"middle","font":"DejaVu Serif","fontWeight":"bold","fontSize":10,"color":"#111"},
  "encoding":{"x":{"field":"start","type":"quantitative","scale":{"domain":[1970.902,1994.272],"nice":false,"zero":false},"axis":null},"y":{"datum":-6.65,"type":"quantitative","scale":{"domain":[-76.15,466.35],"nice":false,"zero":false},"axis":null},"text":{"field":"p"}}},
 {"data":{"values":[{"t":"Years"}]},"mark":{"type":"text","align":"center","baseline":"middle","font":"DejaVu Serif","fontWeight":"bold","fontSize":13,"color":"#111"},
  "encoding":{"x":{"datum":1982,"type":"quantitative","scale":{"domain":[1970.902,1994.272],"nice":false,"zero":false},"axis":null},"y":{"datum":-17.65,"type":"quantitative","scale":{"domain":[-76.15,466.35],"nice":false,"zero":false},"axis":null},"text":{"field":"t"}}},
 {"data":{"values":[{"t":"%"}]},"mark":{"type":"text","align":"center","baseline":"middle","font":"DejaVu Serif","fontWeight":"bold","fontSize":11,"color":"#111"},
  "encoding":{"x":{"datum":1975.2,"type":"quantitative","scale":{"domain":[1970.902,1994.272],"nice":false,"zero":false},"axis":null},"y":{"datum":107.35,"type":"quantitative","scale":{"domain":[-76.15,466.35],"nice":false,"zero":false},"axis":null},"text":{"field":"t"}}}
]}
],
"resolve":{"scale":{"x":"independent","y":"independent","color":"independent","strokeWidth":"independent","strokeDash":"independent","fill":"independent"}}
}
